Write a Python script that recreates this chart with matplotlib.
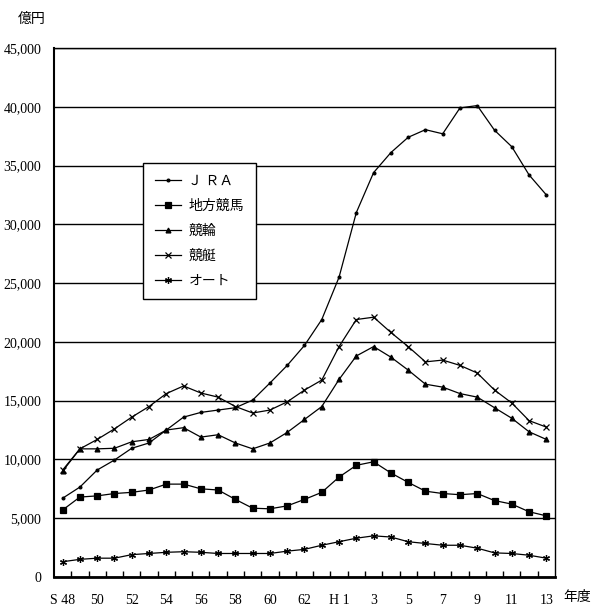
import numpy as np
import matplotlib
matplotlib.use("Agg")
import matplotlib.pyplot as plt
from matplotlib.ticker import FixedLocator, FuncFormatter

plt.rcParams['font.family'] = ['Liberation Serif', 'Noto Sans CJK JP']

# 年度 S48 .. H13 (29年)
years = ['S 48', '49', '50', '51', '52', '53', '54', '55', '56', '57', '58', '59',
         '60', '61', '62', '63', 'H 1', '2', '3', '4', '5', '6', '7', '8', '9',
         '10', '11', '12', '13']

# 売上 (億円) ― 図から読み取り
jra = [6700, 7650, 9100, 9950, 10950, 11400, 12500, 13600, 14000, 14200, 14400,
       15050, 16500, 18000, 19700, 21900, 25500, 31000, 34400, 36100, 37400,
       38050, 37700, 39900, 40100, 38000, 36600, 34200, 32500]
chiho = [5700, 6800, 6900, 7100, 7200, 7400, 7900, 7900, 7500, 7400, 6600,
         5850, 5800, 6050, 6600, 7200, 8500, 9500, 9800, 8850, 8050, 7300,
         7100, 7000, 7100, 6500, 6200, 5550, 5200]
keirin = [9000, 10900, 10900, 10950, 11500, 11700, 12500, 12700, 11900, 12100,
          11400, 10900, 11400, 12300, 13400, 14500, 16800, 18800, 19600, 18700,
          17600, 16400, 16150, 15600, 15300, 14400, 13500, 12350, 11700]
keitei = [9100, 10900, 11700, 12600, 13600, 14500, 15600, 16250, 15650, 15300,
          14500, 13950, 14200, 14900, 15900, 16750, 19600, 21900, 22100, 20800,
          19600, 18300, 18450, 18000, 17350, 15900, 14800, 13300, 12750]
auto = [1300, 1500, 1600, 1600, 1900, 2000, 2100, 2150, 2100, 2000, 2000, 2000,
        2000, 2200, 2350, 2700, 3000, 3300, 3500, 3400, 3000, 2850, 2700, 2700,
        2450, 2050, 2000, 1850, 1600]

series = [
    ('Ｊ ＲＡ', jra, '.', 4),
    ('地方競馬', chiho, 's', 4),
    ('競輪', keirin, '^', 3.5),
    ('競艇', keitei, 'x', 4),
    ('オート', auto, (6, 2, 0), 5),
]

fig = plt.figure(figsize=(5.96, 6.15), dpi=100)
ax = fig.add_axes([0.0906, 0.0618, 0.8406, 0.8602])

x = np.arange(len(years))
for label, vals, mk, ms in series:
    ax.plot(x, vals, color='black', lw=0.9, marker=mk, markersize=ms,
            markeredgewidth=0.9, label=label)

ax.set_xlim(-0.5, len(years) - 0.5)
ax.set_ylim(0, 45000)
ax.set_yticks(np.arange(0, 45001, 5000))
ax.yaxis.set_major_formatter(FuncFormatter(lambda v, p: f'{int(v):,}'))
ax.yaxis.grid(True, color='black', lw=1.0)
ax.set_axisbelow(True)

ax.set_xticks(x[::2])
ax.set_xticklabels(years[::2])
ax.xaxis.set_minor_locator(FixedLocator(np.arange(0.5, len(years) - 1, 1)))
ax.tick_params(axis='x', which='major', length=0, pad=12, labelsize=10)
ax.tick_params(axis='x', which='minor', direction='in', length=4, width=1)
ax.tick_params(axis='y', length=0, pad=9, labelsize=10)

for s in ax.spines.values():
    s.set_color('black')
    s.set_linewidth(1.0)
ax.spines['bottom'].set_linewidth(2.0)
ax.spines['left'].set_linewidth(1.5)

leg = ax.legend(loc='upper left', bbox_to_anchor=(0.178, 0.783), fontsize=10,
                frameon=True, fancybox=False, framealpha=1, edgecolor='black',
                handlelength=1.9, labelspacing=0.85, borderpad=0.85,
                handletextpad=0.5, borderaxespad=0)
leg.get_frame().set_linewidth(1.0)
leg.set_zorder(5)

fig.text(0.03, 0.968, '億円', fontsize=10, ha='left', va='center')
fig.text(0.945, 0.028, '年度', fontsize=10, ha='left', va='center')

fig.savefig('out.png', dpi=100)
